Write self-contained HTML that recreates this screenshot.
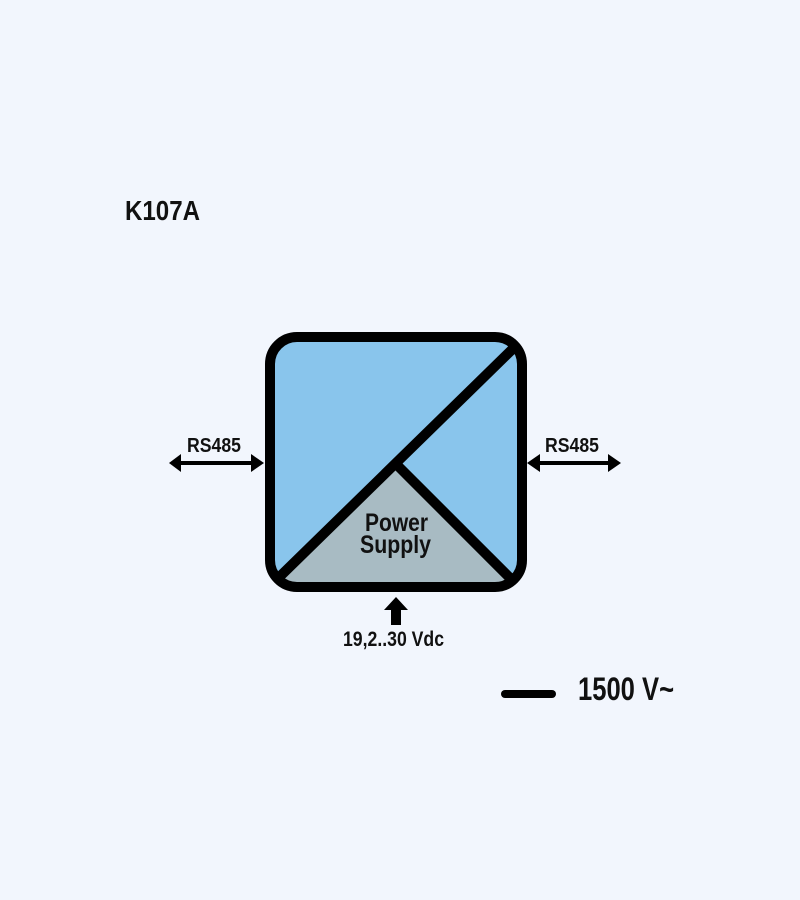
<!DOCTYPE html>
<html><head><meta charset="utf-8"><style>
html,body{margin:0;padding:0;background:#f2f6fd;}
svg{display:block}
text{font-family:"Liberation Sans",sans-serif;font-weight:bold;fill:#111;}
</style></head><body>
<svg width="800" height="900" viewBox="0 0 800 900">
<rect width="800" height="900" fill="#f2f6fd"/>
<defs><clipPath id="c"><rect x="270" y="337" width="252" height="250" rx="27"/></clipPath></defs>
<rect x="270" y="337" width="252" height="250" rx="27" fill="#89c5ec"/>
<polygon clip-path="url(#c)" points="258,597 396,464 536,597" fill="#a8bbc3"/>
<g clip-path="url(#c)" stroke="#000" stroke-width="10" fill="none">
<line x1="262" y1="594" x2="530" y2="332"/>
<line x1="396" y1="464" x2="530" y2="598"/>
</g>
<rect x="270" y="337" width="252" height="250" rx="27" fill="none" stroke="#000" stroke-width="10"/>
<line x1="178" y1="463" x2="255" y2="463" stroke="#000" stroke-width="4"/>
<polygon points="169,463 181,454 181,472" fill="#000"/>
<polygon points="264,463 251,454 251,472" fill="#000"/>
<line x1="535" y1="463" x2="613" y2="463" stroke="#000" stroke-width="4"/>
<polygon points="527,463 540,454 540,472" fill="#000"/>
<polygon points="621,463 608,454 608,472" fill="#000"/>
<polygon points="396,597 408,610 401,610 401,625 391,625 391,610 384,610" fill="#000"/>
<line x1="505" y1="694" x2="552" y2="694" stroke="#000" stroke-width="8" stroke-linecap="round"/>
<text x="125" y="220" font-size="28" textLength="75" lengthAdjust="spacingAndGlyphs">K107A</text>
<text x="187" y="452" font-size="20" textLength="54" lengthAdjust="spacingAndGlyphs">RS485</text>
<text x="545" y="452" font-size="20" textLength="54" lengthAdjust="spacingAndGlyphs">RS485</text>
<text x="365" y="531" font-size="25" textLength="63" lengthAdjust="spacingAndGlyphs">Power</text>
<text x="360" y="553" font-size="25" textLength="71" lengthAdjust="spacingAndGlyphs">Supply</text>
<text x="343" y="646" font-size="21" textLength="101" lengthAdjust="spacingAndGlyphs">19,2..30 Vdc</text>
<text x="578" y="700" font-size="32" textLength="96" lengthAdjust="spacingAndGlyphs">1500 V~</text>
</svg>
</body></html>
